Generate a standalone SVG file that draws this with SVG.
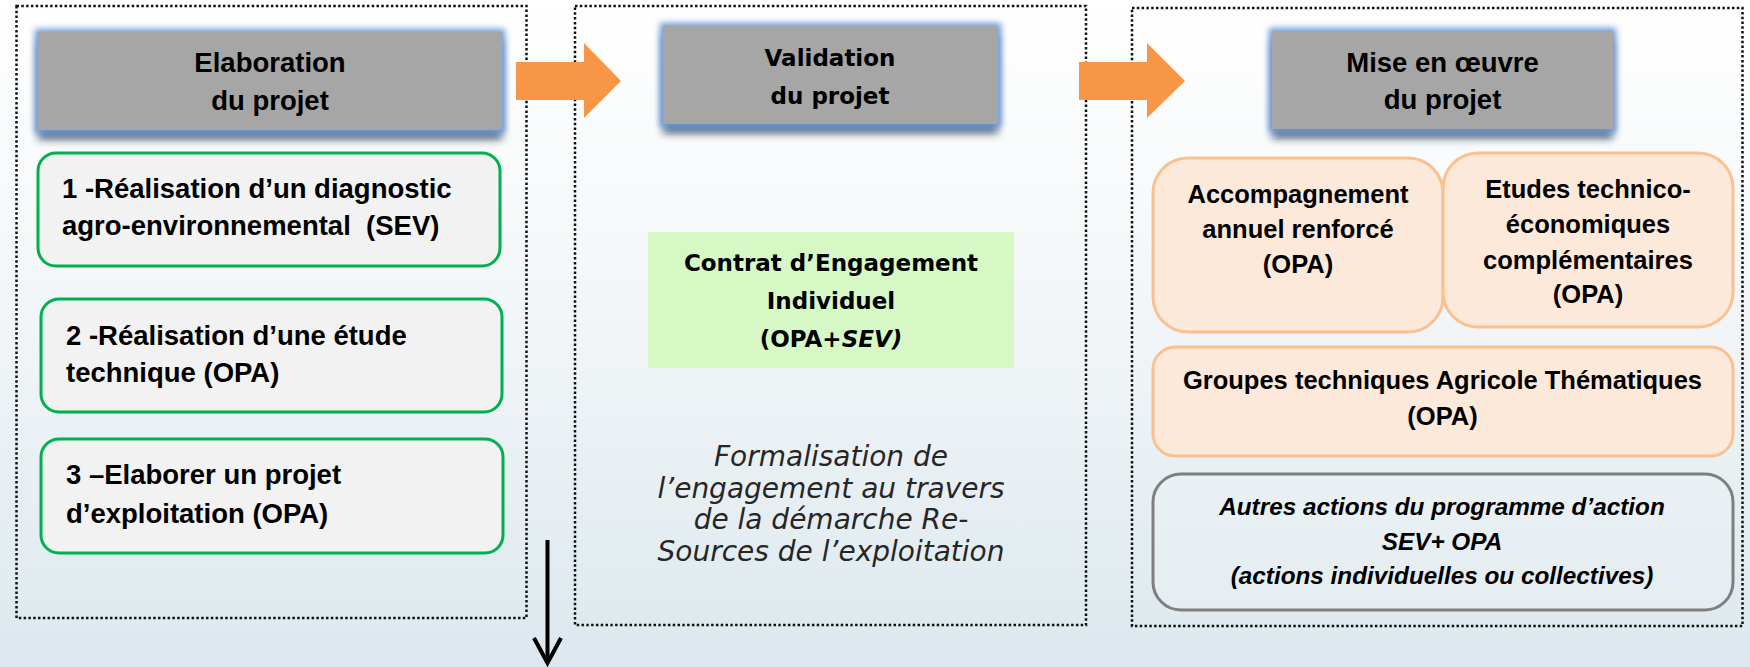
<svg xmlns="http://www.w3.org/2000/svg" width="1750" height="667" viewBox="0 0 1750 667">
<defs>
<linearGradient id="bg" x1="0" y1="0" x2="0" y2="1">
<stop offset="0" stop-color="#ffffff"/>
<stop offset="0.45" stop-color="#f3f6f8"/>
<stop offset="1" stop-color="#dce8ee"/>
</linearGradient>
<filter id="hdr" x="-10%" y="-25%" width="120%" height="170%">
<feGaussianBlur in="SourceAlpha" stdDeviation="4" result="b"/>
<feOffset in="b" dy="9" result="o"/>
<feFlood flood-color="#1c2740" flood-opacity="0.8"/>
<feComposite in2="o" operator="in" result="shadow"/>
<feMorphology in="SourceAlpha" operator="dilate" radius="3" result="d"/>
<feGaussianBlur in="d" stdDeviation="3" result="g"/>
<feFlood flood-color="#6a9ad8"/>
<feComposite in2="g" operator="in" result="glow"/>
<feMerge><feMergeNode in="shadow"/><feMergeNode in="glow"/><feMergeNode in="SourceGraphic"/></feMerge>
</filter>
</defs>
<style>
.panel{fill:none;stroke:#111;stroke-width:2.5;stroke-dasharray:2.5 2.3}
.hdr{fill:#a6a6a6;filter:url(#hdr)}
.gbox{fill:#f2f2f2;stroke:#00b050;stroke-width:3}
.obox{fill:#fde9d9;stroke:#fac090;stroke-width:3}
.gray{fill:#eef3f5;fill-opacity:0.4;stroke:#7f7f7f;stroke-width:3}
.t{font-family:"Liberation Sans",Arial,sans-serif;font-weight:bold;fill:#000}
.h{font-size:27.5px;text-anchor:middle}
.b1{font-size:27.5px;white-space:pre}
.b3{font-size:25.5px;text-anchor:middle}
.bi{font-size:24.3px;text-anchor:middle;font-style:italic}
.v{font-family:"DejaVu Sans",Verdana,sans-serif;font-weight:bold;font-size:23px;text-anchor:middle;fill:#000}
.it{font-family:"DejaVu Sans",Verdana,sans-serif;font-style:italic;font-size:28px;text-anchor:middle;fill:#262626}
.orange{fill:#f79646}
.blk{fill:none;stroke:#000;stroke-width:4}
</style>
<rect x="0" y="0" width="1750" height="667" fill="url(#bg)"/>

<g id="panel-elaboration">
<rect class="panel" x="16.5" y="6" width="510" height="612"/>
</g>
<g id="panel-validation">
<rect class="panel" x="575" y="6" width="511" height="619"/>
</g>
<g id="panel-mise-en-oeuvre">
<rect class="panel" x="1132" y="8" width="610.5" height="618"/>
</g>

<g id="hdr-elaboration">
<rect class="hdr" x="38" y="32" width="464" height="98"/>
<text class="t h" x="270" y="72">Elaboration</text>
<text class="t h" x="270" y="110">du projet</text>
</g>
<g id="hdr-validation">
<rect class="hdr" x="663" y="26" width="335" height="98"/>
<text class="v" x="830" y="66">Validation</text>
<text class="v" x="830" y="104">du projet</text>
</g>
<g id="hdr-mise">
<rect class="hdr" x="1272" y="31" width="341" height="98"/>
<text class="t h" x="1442.5" y="72">Mise en œuvre</text>
<text class="t h" x="1442.5" y="109">du projet</text>
</g>

<g id="step1">
<rect class="gbox" x="38" y="153" width="462" height="113" rx="18"/>
<text class="t b1" x="62" y="198">1 -Réalisation d’un diagnostic</text>
<text class="t b1" x="62" y="235">agro-environnemental  (SEV)</text>
</g>
<g id="step2">
<rect class="gbox" x="41" y="299" width="461" height="113" rx="18"/>
<text class="t b1" x="66" y="345">2 -Réalisation d’une étude</text>
<text class="t b1" x="66" y="382">technique (OPA)</text>
</g>
<g id="step3">
<rect class="gbox" x="41" y="439" width="462" height="114" rx="18"/>
<text class="t b1" x="66" y="484">3 –Elaborer un projet</text>
<text class="t b1" x="66" y="523">d’exploitation (OPA)</text>
</g>

<g id="contrat">
<rect x="648" y="232" width="366" height="136" fill="#d5f8c5"/>
<text class="v" x="831" y="271">Contrat d’Engagement</text>
<text class="v" x="831" y="309">Individuel</text>
<text class="v" x="831" y="347">(OPA+<tspan font-style="italic">SEV)</tspan></text>
</g>
<g id="formalisation">
<text class="it" x="831" y="466">Formalisation de</text>
<text class="it" x="831" y="498">l’engagement au travers</text>
<text class="it" x="831" y="529">de la démarche Re-</text>
<text class="it" x="831" y="561">Sources de l’exploitation</text>
</g>

<g id="accompagnement">
<rect class="obox" x="1153" y="158" width="290" height="174" rx="35"/>
<text class="t b3" x="1298" y="203">Accompagnement</text>
<text class="t b3" x="1298" y="238">annuel renforcé</text>
<text class="t b3" x="1298" y="273">(OPA)</text>
</g>
<g id="etudes">
<rect class="obox" x="1443" y="153" width="290" height="174" rx="35"/>
<text class="t b3" x="1588" y="198">Etudes technico-</text>
<text class="t b3" x="1588" y="233">économiques</text>
<text class="t b3" x="1588" y="269">complémentaires</text>
<text class="t b3" x="1588" y="303">(OPA)</text>
</g>
<g id="groupes">
<rect class="obox" x="1153" y="347" width="580" height="109" rx="22"/>
<text class="t b3" x="1442.5" y="389">Groupes techniques Agricole Thématiques</text>
<text class="t b3" x="1442.5" y="425">(OPA)</text>
</g>
<g id="autres">
<rect class="gray" x="1153" y="474" width="580" height="136" rx="28"/>
<text class="t bi" x="1442" y="515">Autres actions du programme d’action</text>
<text class="t bi" x="1442" y="550">SEV+ OPA</text>
<text class="t bi" x="1442" y="584">(actions individuelles ou collectives)</text>
</g>

<g id="connectors">
<polygon class="orange" points="516,62 584,62 584,43 621,81 584,118 584,100 516,100"/>
<polygon class="orange" points="1079,62 1147,62 1147,43 1185,81 1147,118 1147,100 1079,100"/>
<line class="blk" x1="547.5" y1="540" x2="547.5" y2="662"/>
<polyline class="blk" points="534,638 547.5,663 561,638"/>
</g>
</svg>
